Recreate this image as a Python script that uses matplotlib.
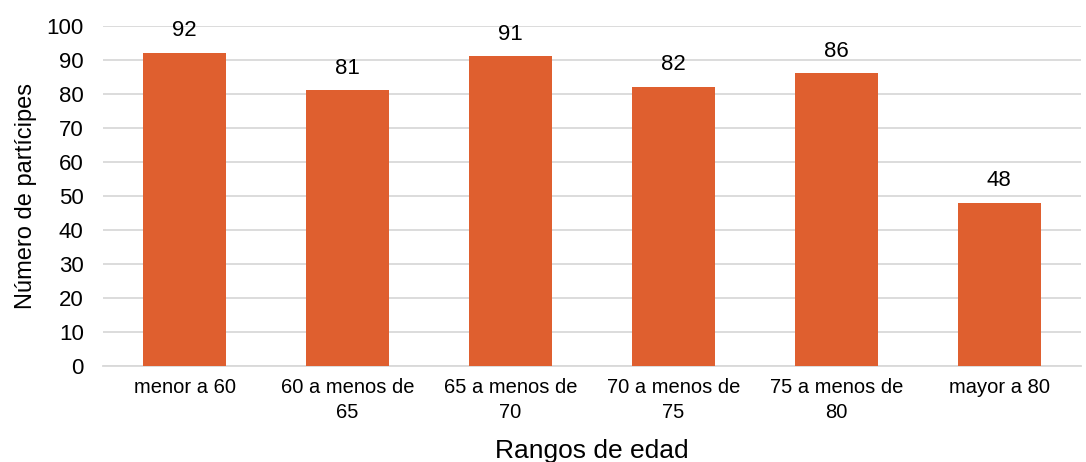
import matplotlib
matplotlib.use("Agg")
import matplotlib.pyplot as plt

# Participantes por rango de edad
categorias = ["menor a 60", "60 a menos de\n65", "65 a menos de\n70",
              "70 a menos de\n75", "75 a menos de\n80", "mayor a 80"]
participantes = [92, 81, 91, 82, 86, 48]

plt.rcParams['font.family'] = ['Liberation Sans', 'DejaVu Sans']

fig = plt.figure(figsize=(10.86, 4.62), dpi=100)
ax = fig.add_axes([0.095, 0.208, 0.9, 0.736])

x = range(len(categorias))
barras = ax.bar(x, participantes, width=0.51, color='#DF5F2F', zorder=3)

for b, v in zip(barras, participantes):
    ax.text(b.get_x() + b.get_width() / 2, v + 3.5, str(v),
            ha='center', va='bottom', fontsize=16)

ax.set_xlim(-0.5, len(categorias) - 0.5)
ax.set_ylim(0, 100)
ax.set_yticks(range(0, 101, 10))
ax.set_xticks(list(x))
ax.set_xticklabels(categorias, fontsize=14.5, linespacing=1.4)
ax.tick_params(axis='y', labelsize=16, length=0, pad=14)
ax.tick_params(axis='x', length=0, pad=9)

ax.grid(axis='y', color='#D9D9D9', linewidth=1.3, zorder=0)
for s in ['top', 'right', 'left']:
    ax.spines[s].set_visible(False)
ax.spines['bottom'].set_color('#D9D9D9')
ax.spines['bottom'].set_linewidth(1.3)

ax.set_xlabel("Rangos de edad", fontsize=19, labelpad=12)
ax.set_ylabel("Número de partícipes", fontsize=17, labelpad=7)

fig.savefig("out.png", dpi=100)
